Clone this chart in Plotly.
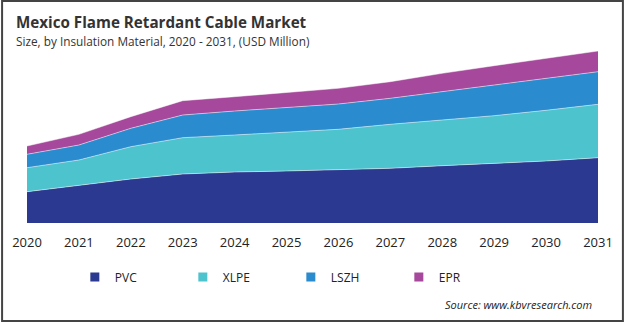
import plotly.graph_objects as go

years = [2020, 2021, 2022, 2023, 2024, 2025, 2026, 2027, 2028, 2029, 2030, 2031]
pvc = [31.3, 37.3, 44, 49, 51, 52, 53.5, 54.7, 57.3, 59.7, 62, 65.3]
xlpe = [24, 25.7, 32.3, 36.3, 37, 38.7, 40.2, 44, 45.7, 47.6, 50.7, 53.4]
lszh = [13.4, 15, 18.4, 22.7, 24, 24.6, 25.3, 26, 28.3, 30.7, 32, 32.6]
epr = [8.3, 10.7, 11.6, 14.3, 14.3, 15, 15.7, 16.6, 18.4, 19.3, 20, 20.7]

series = [("PVC", pvc, "#2B3990"), ("XLPE", xlpe, "#4DC3CE"),
          ("LSZH", lszh, "#2A8CCF"), ("EPR", epr, "#A6489B")]

fig = go.Figure()
for name, vals, col in series:
    fig.add_trace(go.Scatter(x=years, y=vals, name=name, stackgroup="one",
                             mode="lines", line=dict(width=0.6, color="rgba(255,255,255,0.8)"),
                             fillcolor=col, showlegend=False, hoverinfo="skip"))
for name, vals, col in series:
    fig.add_trace(go.Scatter(x=[None], y=[None], name=name, mode="markers",
                             marker=dict(symbol="square", size=9, color=col)))

W, H = 625, 322
ml, mr, mt, mb = 26, 26, 45, 99
pw = W - ml - mr
ph = H - mt - mb

def px(x):
    return (x - ml) / pw

def py(y):
    return (H - mb - y) / ph

fig.update_layout(
    width=W, height=H,
    margin=dict(l=ml, r=mr, t=mt, b=mb, pad=0),
    paper_bgcolor="white", plot_bgcolor="white",
    font=dict(family="Open Sans", color="#222"),
    xaxis=dict(range=[2020, 2031], tickvals=years, showgrid=False, zeroline=False,
               showline=False, ticks="", tickfont=dict(size=13, color="#222"),
               ticklabelstandoff=10),
    yaxis=dict(range=[0, 178], visible=False, showgrid=False),
    showlegend=True,
    legend=dict(orientation="h", x=px(74), y=py(277), yanchor="middle", xanchor="left",
                entrywidth=63, entrywidthmode="pixels", traceorder="normal",
                font=dict(size=12, color="#222"),
                itemclick=False, bgcolor="rgba(0,0,0,0)"),
    annotations=[
        dict(text="<b>Mexico Flame Retardant Cable Market</b>", x=px(13), y=py(22),
             xref="paper", yref="paper", xanchor="left", yanchor="middle", showarrow=False,
             font=dict(size=15.2, color="#333")),
        dict(text="Size, by Insulation Material, 2020 - 2031, (USD Million)", x=px(13), y=py(41),
             xref="paper", yref="paper", xanchor="left", yanchor="middle", showarrow=False,
             font=dict(size=11.8, color="#333")),
        dict(text="<i>Source: www.kbvresearch.com</i>", x=px(595), y=py(304),
             xref="paper", yref="paper", xanchor="right", yanchor="middle", showarrow=False,
             font=dict(size=11, color="#222")),
    ],
    shapes=[dict(type="rect", xref="paper", yref="paper", x0=px(1), x1=px(624),
                 y0=py(1), y1=py(321), line=dict(color="#444", width=2))],
)

fig.write_html("out.html")
